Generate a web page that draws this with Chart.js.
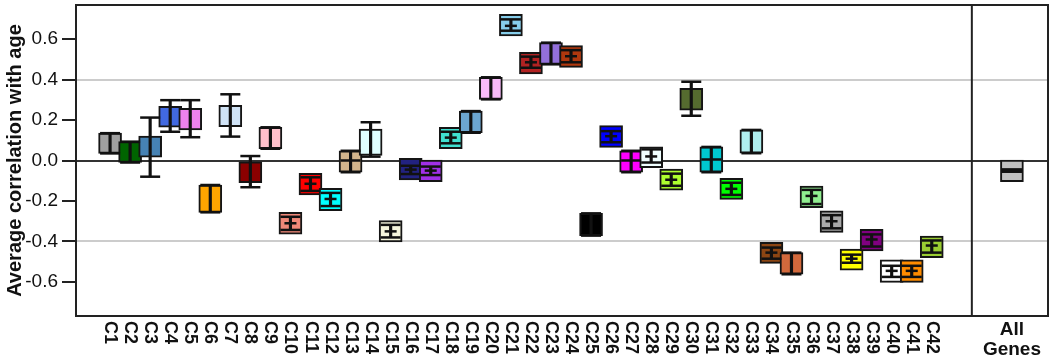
<!DOCTYPE html>
<html>
<head>
<meta charset="utf-8">
<script src="https://cdn.jsdelivr.net/npm/chart.js@4.4.1/dist/chart.umd.min.js"></script>
<style>
  body { margin: 0; background: #fff; }
  #wrap { width: 1050px; height: 360px; }
</style>
</head>
<body>
<div id="wrap"><canvas id="chart"></canvas></div>
<script>
  // clusters C1..C42 plus the pooled "All Genes" panel
  const categories = ['C1','C2','C3','C4','C5','C6','C7','C8','C9','C10','C11','C12','C13','C14',
    'C15','C16','C17','C18','C19','C20','C21','C22','C23','C24','C25','C26','C27','C28',
    'C29','C30','C31','C32','C33','C34','C35','C36','C37','C38','C39','C40','C41','C42'];
  const allLabel = 'All Genes';

  const boxHigh = [0.135, 0.093, 0.120, 0.268, 0.258, -0.121, 0.273, -0.006, 0.164, -0.256, -0.063, -0.137, 0.048, 0.155,
    -0.297, 0.011, 0.002, 0.164, 0.244, 0.411, 0.722, 0.534, 0.582, 0.567, -0.261, 0.172, 0.048, 0.068,
    -0.042, 0.356, 0.067, -0.088, 0.151, -0.404, -0.455, -0.126, -0.248, -0.437, -0.340, -0.491, -0.491, -0.373];
  const boxLow = [0.035, -0.010, 0.016, 0.164, 0.151, -0.256, 0.167, -0.110, 0.058, -0.364, -0.170, -0.248, -0.058, 0.025,
    -0.402, -0.096, -0.105, 0.058, 0.137, 0.302, 0.615, 0.427, 0.475, 0.460, -0.371, 0.065, -0.058, -0.036,
    -0.147, 0.249, -0.058, -0.192, 0.036, -0.508, -0.562, -0.233, -0.355, -0.542, -0.447, -0.602, -0.602, -0.480];
  const errHigh = [0.135, 0.093, 0.212, 0.298, 0.298, -0.121, 0.327, 0.022, 0.164, -0.278, -0.083, -0.160, 0.048, 0.189,
    -0.318, -0.026, -0.030, 0.142, 0.244, 0.411, 0.697, 0.513, 0.582, 0.545, -0.261, 0.145, 0.048, 0.055,
    -0.065, 0.389, 0.067, -0.110, 0.151, -0.430, -0.455, -0.145, -0.270, -0.465, -0.365, -0.520, -0.520, -0.395];
  const errLow = [0.035, -0.010, -0.080, 0.142, 0.115, -0.256, 0.118, -0.132, 0.058, -0.343, -0.150, -0.225, -0.058, 0.019,
    -0.380, -0.067, -0.072, 0.085, 0.137, 0.302, 0.641, 0.458, 0.475, 0.485, -0.371, 0.090, -0.058, -0.010,
    -0.125, 0.221, -0.058, -0.170, 0.036, -0.485, -0.562, -0.215, -0.335, -0.505, -0.425, -0.575, -0.575, -0.455];
  const means = [0.085, 0.040, 0.068, 0.215, 0.205, -0.190, 0.220, -0.058, 0.110, -0.310, -0.115, -0.190, 0.000, 0.100,
    -0.350, -0.045, -0.050, 0.113, 0.190, 0.355, 0.665, 0.485, 0.530, 0.515, -0.315, 0.120, 0.000, 0.020,
    -0.095, 0.300, 0.005, -0.140, 0.095, -0.455, -0.510, -0.175, -0.300, -0.485, -0.390, -0.545, -0.545, -0.420];
  const allBox = [-0.105, 0.002];
  const allErr = [-0.055, -0.045];
  const allMean = -0.05;

  const yTicks = [-0.6, -0.4, -0.2, 0, 0.2, 0.4, 0.6];

  const colors = ['#a0a0a0','#006400','#4682b4','#4169e1','#ee82ee','#ffa500','#cfe2f5','#8b0000','#ffc0cb','#f08878',
    '#ff0000','#00ffff','#d2b48c','#e0ffff','#f5f5dc','#222280','#a030e8','#40e0d0','#6ca6d0','#f9bbf9',
    '#87ceeb','#b22222','#9370db','#b0380e','#000000','#0000ff','#ff00ff','#f0ffff','#adff2f','#556b2f',
    '#00c8d0','#00ff00','#afeeee','#8b4513','#d2693c','#90ee90','#a9a9a9','#ffff00','#800080','#ffffff',
    '#ff8c00','#9acd32'];
  const allColor = '#c0c0c0';

  // boxes where the mean bar is not visible / drawn full width
  const plainBoxes = ['C1','C2','C3','C4','C5','C6','C7','C8','C9','C14','C19','C20','C23','C25','C30','C33','C35'];
  const crossBoxes = ['C13','C27','C31'];

  const FONT = "'Liberation Sans', Arial, sans-serif";
  const ALL_X = categories.length + 4;
  const SEP_X = categories.length + 2;

  const xs = categories.map((c, i) => i + 1);
  const boxData = xs.map((x, i) => ({ x, y: [boxLow[i], boxHigh[i]] })).concat([{ x: ALL_X, y: allBox }]);
  const errData = xs.map((x, i) => ({ x, y: [errLow[i], errHigh[i]] })).concat([{ x: ALL_X, y: allErr }]);
  const capData = [];
  xs.forEach((x, i) => { capData.push({ x, y: errLow[i] }, { x, y: errHigh[i] }); });
  capData.push({ x: ALL_X, y: allErr[0] }, { x: ALL_X, y: allErr[1] });
  const meanData = xs.map((x, i) => ({ x, y: means[i] })).concat([{ x: ALL_X, y: allMean }]);
  const meanRadius = categories.map(c => plainBoxes.includes(c) ? 0 : crossBoxes.includes(c) ? 10 : 6).concat([10]);
  const meanWidth = categories.map(() => 2.5).concat([4.5]);

  const labelPlugin = {
    id: 'labels',
    afterDraw(chart) {
      const ctx = chart.ctx;
      const xScale = chart.scales.x;
      const area = chart.chartArea;
      ctx.save();
      // frame and panel separator
      ctx.strokeStyle = '#222';
      ctx.lineWidth = 2;
      ctx.strokeRect(area.left, area.top, area.right - area.left, area.bottom - area.top);
      const sx = xScale.getPixelForValue(SEP_X);
      ctx.beginPath();
      ctx.moveTo(sx, area.top);
      ctx.lineTo(sx, area.bottom);
      ctx.stroke();

      ctx.fillStyle = '#111';
      ctx.font = 'bold 18px ' + FONT;
      ctx.textAlign = 'left';
      ctx.textBaseline = 'middle';
      categories.forEach((c, i) => {
        ctx.save();
        ctx.translate(xScale.getPixelForValue(xs[i]), area.bottom + 5);
        ctx.rotate(Math.PI / 2);
        ctx.fillText(c, 0, 0);
        ctx.restore();
      });
      ctx.font = 'bold 19px ' + FONT;
      ctx.textAlign = 'center';
      const ax = xScale.getPixelForValue(ALL_X);
      const words = allLabel.split(' ');
      ctx.fillText(words[0], ax, area.bottom + 14);
      ctx.fillText(words[1], ax, area.bottom + 34);
      ctx.restore();
    }
  };

  new Chart(document.getElementById('chart').getContext('2d'), {
    type: 'bar',
    data: {
      datasets: [
        {
          type: 'scatter',
          data: meanData,
          pointStyle: 'line',
          pointRadius: meanRadius,
          pointBorderWidth: meanWidth,
          pointBorderColor: '#111',
          order: 1
        },
        {
          type: 'scatter',
          data: capData,
          pointStyle: 'line',
          pointRadius: 10,
          pointBorderWidth: 2.5,
          pointBorderColor: '#111',
          order: 2
        },
        {
          data: errData,
          backgroundColor: '#111',
          borderWidth: 0,
          barThickness: 2.5,
          grouped: false,
          order: 3
        },
        {
          data: boxData,
          backgroundColor: colors.concat([allColor]),
          borderColor: '#151515',
          borderWidth: 2,
          borderSkipped: false,
          barThickness: 23,
          grouped: false,
          order: 4
        }
      ]
    },
    options: {
      responsive: true,
      maintainAspectRatio: false,
      animation: false,
      events: [],
      layout: { autoPadding: false, padding: { top: 5, right: 2, left: 0, bottom: 0 } },
      plugins: {
        legend: { display: false },
        tooltip: { enabled: false }
      },
      scales: {
        x: {
          type: 'linear',
          min: -0.7,
          max: ALL_X + 1.8,
          offset: false,
          grid: { display: false, offset: false },
          border: { display: false },
          ticks: { display: false },
          afterFit(scale) {
            scale.height = 44;
            scale.paddingLeft = 0;
            scale.paddingRight = 0;
          }
        },
        y: {
          min: -0.768,
          max: 0.768,
          afterBuildTicks(scale) { scale.ticks = yTicks.map(v => ({ value: v })); },
          afterFit(scale) {
            scale.width = 76;
            scale.paddingTop = 0;
            scale.paddingBottom = 0;
          },
          border: { display: false },
          grid: {
            lineWidth: 2,
            tickLength: 14,
            tickWidth: 2,
            tickColor: '#222',
            color: ctx => {
              const v = ctx.tick ? ctx.tick.value : 1;
              if (Math.abs(v) < 1e-9) return '#333';
              if (Math.abs(Math.abs(v) - 0.4) < 1e-9) return '#cccccc';
              return 'rgba(0,0,0,0)';
            }
          },
          ticks: {
            padding: 4,
            color: '#111',
            font: { family: FONT, size: 19 },
            callback: v => v.toFixed(1)
          },
          title: {
            display: true,
            text: 'Average correlation with age',
            color: '#111',
            font: { family: FONT, size: 20, weight: 'bold' },
            padding: { top: 3, bottom: 4 }
          }
        }
      }
    },
    plugins: [labelPlugin]
  });
</script>
</body>
</html>
